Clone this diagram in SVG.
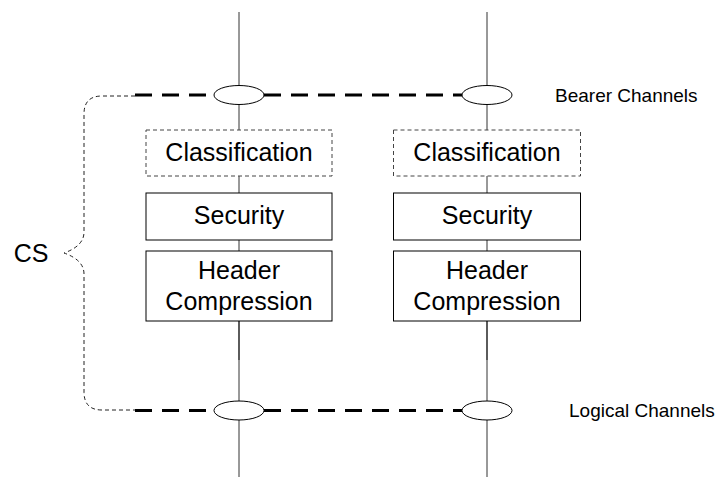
<svg xmlns="http://www.w3.org/2000/svg" width="719" height="489" viewBox="0 0 719 489">
<style>
.bg{fill:#fff}
.box{fill:#fff;stroke:#000;stroke-width:1}
.dbox{fill:#fff;stroke:#444;stroke-width:1;stroke-dasharray:4,3}
.vl{stroke:#333;stroke-width:1;fill:none}
.vt{stroke:#333;stroke-width:1.6;fill:none}
.ch{stroke:#000;stroke-width:3;stroke-dasharray:17,10;fill:none}
.br{stroke:#222;stroke-width:1;stroke-dasharray:4,3;fill:none}
.ell{fill:#fff;stroke:#000;stroke-width:1}
.t{font-family:"Liberation Sans",Arial,sans-serif;font-size:25px;fill:#000;text-anchor:middle}
.lb{font-family:"Liberation Sans",Arial,sans-serif;font-size:19px;fill:#000}
</style>
<rect class="bg" x="0" y="0" width="719" height="489"/>
<g id="connectors">
  <path class="vl" d="M239,12V86M239,104V130M239,176V193M239,240V251M239,360V401M239,420V477"/>
  <path class="vt" d="M239,321V360"/>
  <path class="vl" d="M487,12V86M487,104V130M487,176V193M487,240V251M487,360V401M487,420V477"/>
  <path class="vt" d="M487,321V360"/>
  <path class="ch" d="M135,95H214M264,95H462"/>
  <path class="ch" d="M135,410.5H214M264,410.5H462"/>
  <path class="br" d="M135,96H102Q84,96 84,114V232Q84,246 64,253Q84,260 84,274V392Q84,410 102,410H135"/>
</g>
<g id="bearer-left"><ellipse class="ell" cx="239" cy="95" rx="25" ry="9.5"/></g>
<g id="bearer-right"><ellipse class="ell" cx="487" cy="95" rx="25" ry="9.5"/></g>
<g id="logical-left"><ellipse class="ell" cx="239" cy="410.5" rx="25" ry="9.5"/></g>
<g id="logical-right"><ellipse class="ell" cx="487" cy="410.5" rx="25" ry="9.5"/></g>
<g id="classification-left"><rect class="dbox" x="146" y="130" width="186" height="46"/><text class="t" x="239" y="161">Classification</text></g>
<g id="classification-right"><rect class="dbox" x="393.5" y="130" width="187" height="46"/><text class="t" x="487" y="161">Classification</text></g>
<g id="security-left"><rect class="box" x="146" y="193" width="186" height="47"/><text class="t" x="239" y="223.5">Security</text></g>
<g id="security-right"><rect class="box" x="393.5" y="193" width="187" height="47"/><text class="t" x="487" y="223.5">Security</text></g>
<g id="hc-left"><rect class="box" x="146" y="251" width="186" height="70"/><text class="t" x="239" y="278.5">Header</text><text class="t" x="239" y="309.5">Compression</text></g>
<g id="hc-right"><rect class="box" x="393.5" y="251" width="187" height="70"/><text class="t" x="487" y="278.5">Header</text><text class="t" x="487" y="309.5">Compression</text></g>
<g id="cs"><text class="t" x="31" y="261.5">CS</text></g>
<g id="label-bearer"><text class="lb" x="555" y="101.5">Bearer Channels</text></g>
<g id="label-logical"><text class="lb" x="569" y="416.5">Logical Channels</text></g>
</svg>
